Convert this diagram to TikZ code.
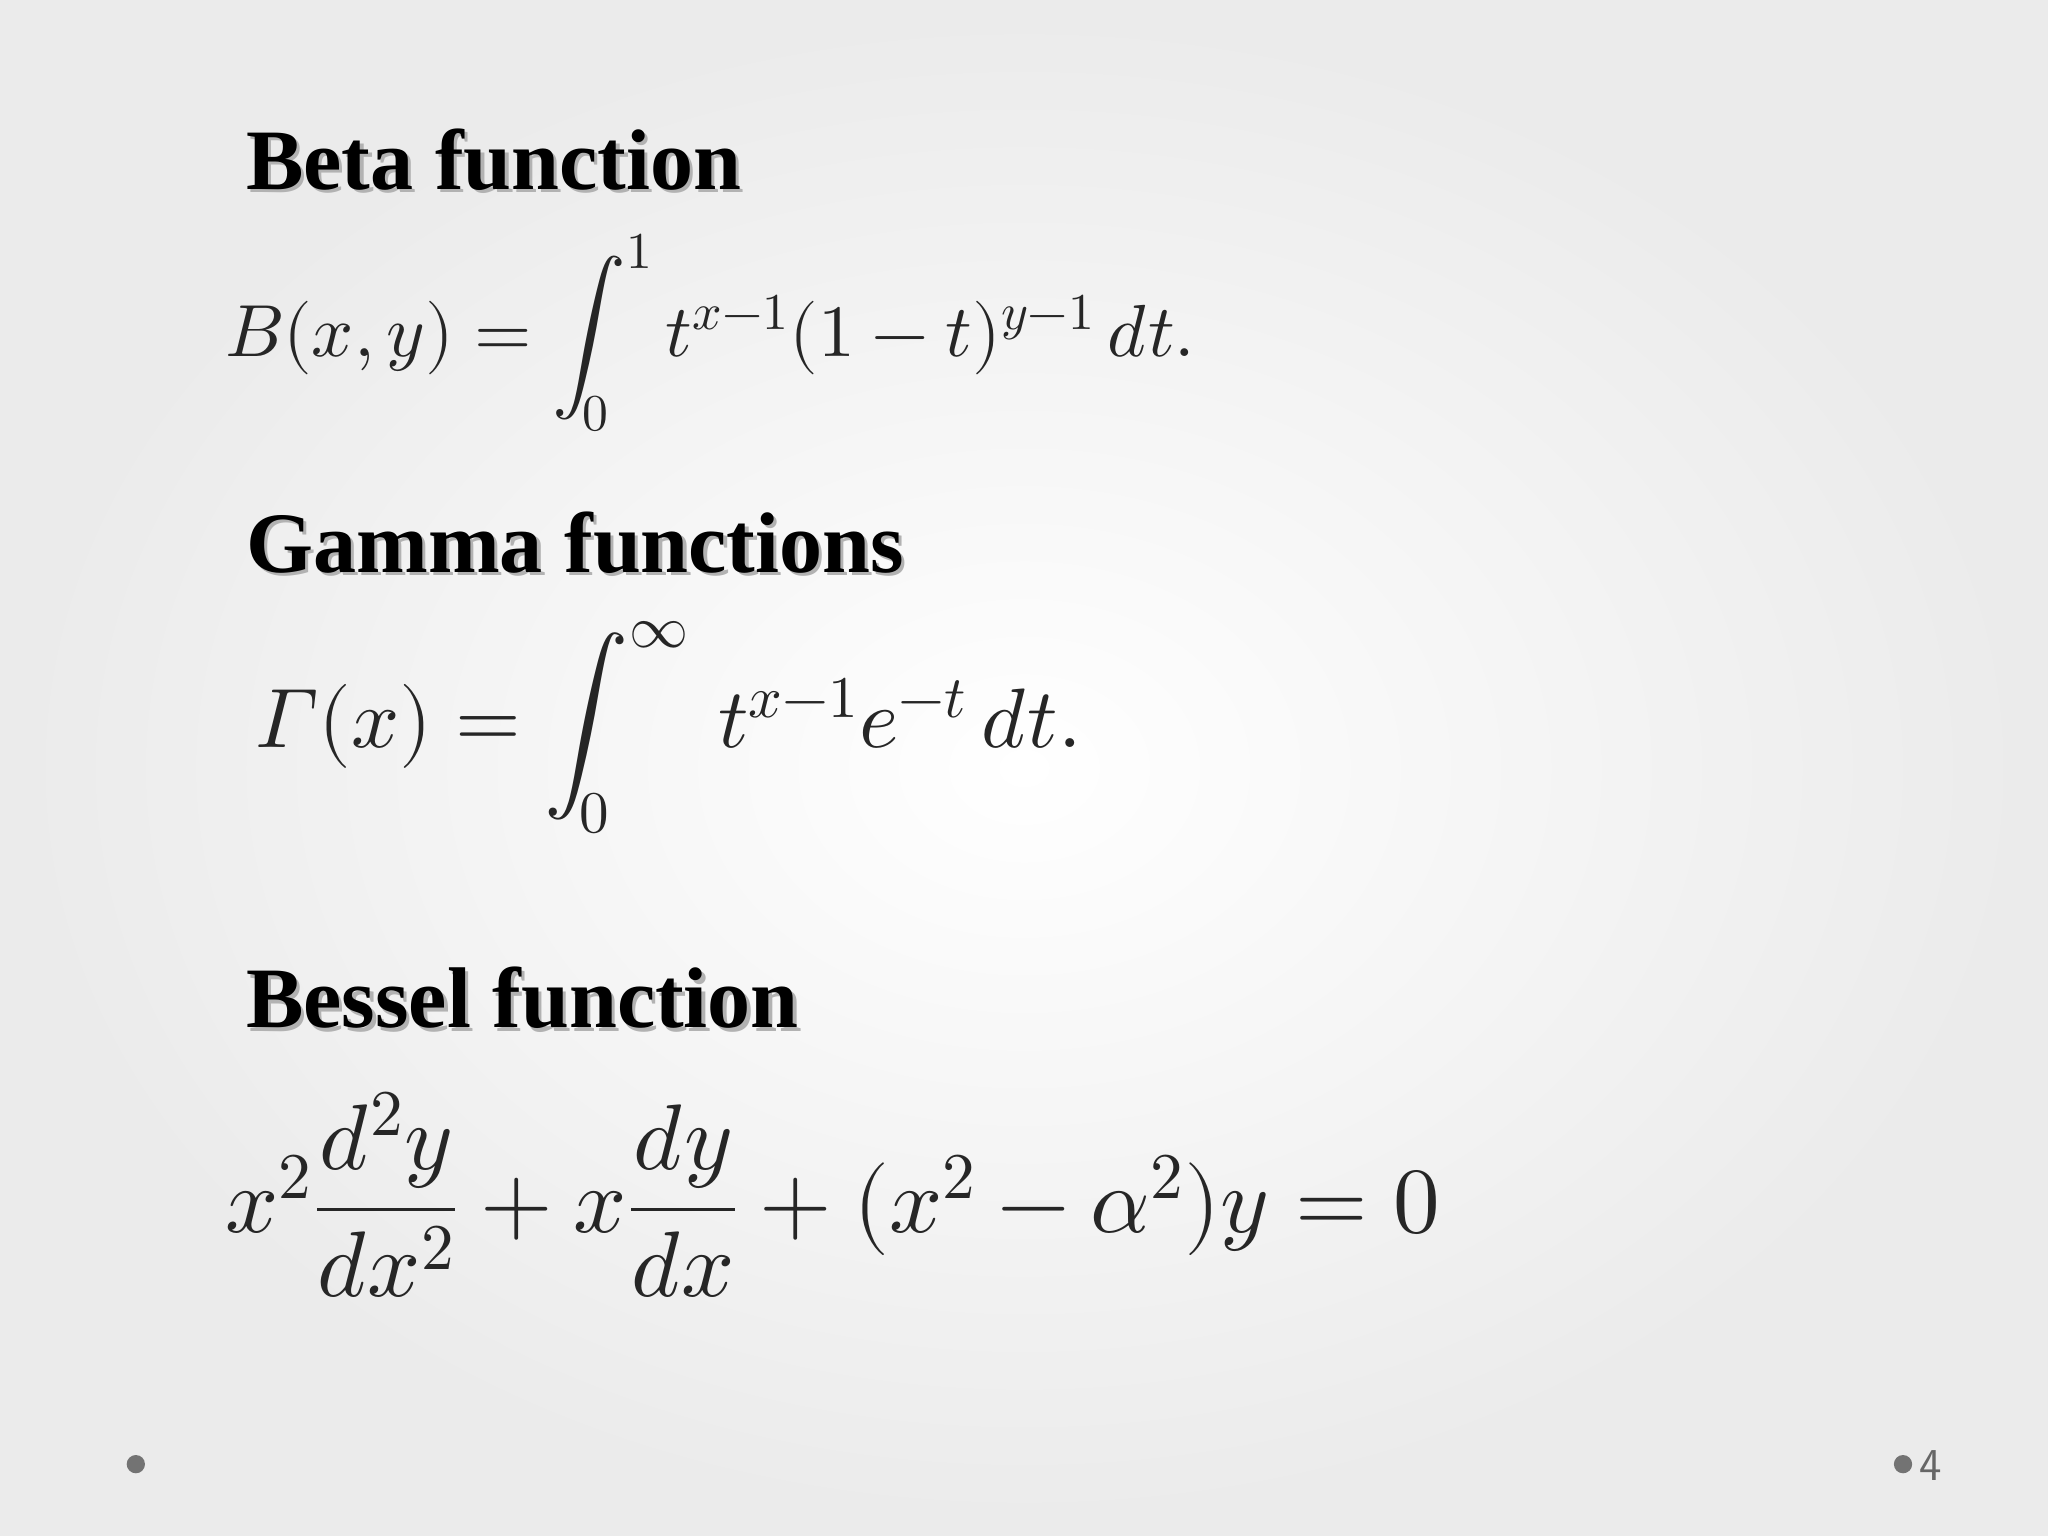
\documentclass[tikz,border=0pt]{standalone}
\usepackage{fontspec}
\setmainfont{Liberation Serif}
\usepackage{amsmath}
\usepackage[math-style=ISO]{unicode-math}
\setmathfont{Latin Modern Math}
\begin{document}
\begin{tikzpicture}[x=0.013061cm,y=-0.013061cm,
  ttl/.style={anchor=base west,inner sep=0,font=\fontsize{24.5}{28}\selectfont\bfseries},
  eq/.style={anchor=west,inner sep=0,text=black!85},
  dot/.style={fill=black!55,draw=none}]
\shade[inner color=white,middle color=white,outer color=black!8] (0,0) rectangle (1568,1176);
\useasboundingbox (0,0) rectangle (1568,1176);
\foreach \t/\y/\n in {Beta function/145/b,Gamma functions/438/g,Bessel function/787/s}{
  \node[ttl,text=black!30] at (190.5,\y+2.5) {\t};
  \node[ttl] (\n) at (188,\y) {\t};
}
\node[eq,font=\fontsize{21}{24}\selectfont] (e1) at (172,255) {$B(x,y)=\displaystyle\int_0^1 t^{x-1}(1-t)^{y-1}\,dt.$};
\node[eq,font=\fontsize{24}{28}\selectfont] (e2) at (195,557) {$\Gamma(x)=\displaystyle\int_0^\infty \,t^{x-1}e^{-t}\,dt.$};
\node[eq,font=\fontsize{26.5}{30}\selectfont] (e3) at (172,915) {$x^2\dfrac{d^2y}{dx^2}+x\dfrac{dy}{dx}+(x^2-\alpha^2)y=0$};
\fill[dot] (104,1121) circle (7);
\fill[dot] (1457,1121) circle (7);
\node[anchor=west,inner sep=0,text=black!60,font=\fontsize{13}{15}\selectfont\sffamily] (pn) at (1469,1122) {4};
\end{tikzpicture}
\end{document}
